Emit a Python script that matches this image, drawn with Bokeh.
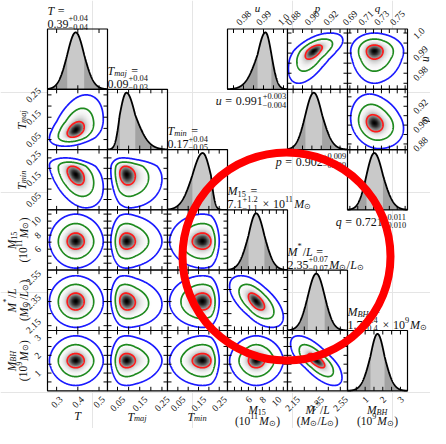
import math
import re
import numpy as np
import contourpy
from bokeh.plotting import figure
from bokeh.models import Range1d, LinearColorMapper
from bokeh.embed import file_html
from bokeh.resources import INLINE
from bokeh.core.properties import value

# ------------------------------------------------------------------ data
# lower corner: 6 parameters (median and asymmetric 1-sigma errors from the titles)
LOW_KEYS = ["T", "Tmaj", "Tmin", "M15", "ML", "MBH"]
LOW_MEDIAN = [0.39, 0.09, 0.17, 7.1, 2.35, 1.7]
LOW_ERR_PLUS = [0.04, 0.04, 0.04, 1.2, 0.07, 0.4]
LOW_ERR_MINUS = [0.04, 0.03, 0.05, 1.1, 0.07, 0.4]
LOW_TAIL_PLUS = [0.045, 0.06, 0.02, 1.35, 0.072, 0.5]
LOW_TAIL_MINUS = [0.042, 0.02, 0.055, 1.35, 0.072, 0.5]
LOW_DECIMALS = [2, 2, 2, 1, 2, 1]
LOW_AX_MIN = [0.257, 0.005, 0.0, 3.0, 2.11, 0.0]
LOW_AX_MAX = [0.540, 0.275, 0.29, 11.6, 2.61, 3.4]
LOW_TICKS = [[0.3, 0.4, 0.5],
             [0.05, 0.10, 0.15, 0.20, 0.25],
             [0.05, 0.10, 0.15, 0.20, 0.25],
             [4, 5, 6, 7, 8, 9, 10, 11],
             [2.15, 2.25, 2.35, 2.45, 2.55],
             [0.5, 1.0, 1.5, 2.0, 2.5, 3.0]]
LOW_TICK_LABELS = [["0.3", "0.4", "0.5"],
                   ["0.05", "", "0.15", "", "0.25"],
                   ["0.05", "", "0.15", "", "0.25"],
                   ["", "", "6", "", "8", "", "10", ""],
                   ["2.15", "", "2.35", "", "2.55"],
                   ["", "1", "", "2", "", "3"]]
LOW_CORR = [[1.0, 0.4, -0.4, 0.0, 0.0, 0.0],
            [0.4, 1.0, -0.15, 0.0, -0.1, 0.0],
            [-0.4, -0.15, 1.0, 0.0, 0.0, 0.0],
            [0.0, 0.0, 0.0, 1.0, -0.6, 0.0],
            [0.0, -0.1, 0.0, -0.6, 1.0, -0.7],
            [0.0, 0.0, 0.0, 0.0, -0.7, 1.0]]

# upper corner: u, p, q
UPQ_KEYS = ["u", "p", "q"]
UPQ_MEDIAN = [0.991, 0.902, 0.721]
UPQ_ERR_PLUS = [0.003, 0.009, 0.011]
UPQ_ERR_MINUS = [0.004, 0.009, 0.010]
UPQ_TAIL_PLUS = [0.003, 0.011, 0.013]
UPQ_TAIL_MINUS = [0.006, 0.009, 0.010]
UPQ_DECIMALS = [3, 3, 3]
UPQ_AX_MIN = [0.972, 0.874, 0.687]
UPQ_AX_MAX = [1.002, 0.938, 0.763]
UPQ_TICKS = [[0.975, 0.98, 0.985, 0.99, 0.995, 1.0],
             [0.88, 0.89, 0.90, 0.91, 0.92, 0.93],
             [0.69, 0.70, 0.71, 0.72, 0.73, 0.74, 0.75, 0.76]]
UPQ_TICK_LABELS = [["", "0.98", "", "0.99", "", "1.0"],
                   ["0.88", "", "0.90", "", "0.92", ""],
                   ["0.69", "", "0.71", "", "0.73", "", "0.75", ""]]
UPQ_CORR = [[1.0, 0.6, 0.0],
            [0.6, 1.0, -0.2],
            [0.0, -0.2, 1.0]]

CONTOUR_LEVELS = [9.0, 4.0, 1.0]          # squared Mahalanobis radius (3, 2, 1 sigma)
CONTOUR_COLORS = ["#1a1aff", "#1f8a1f", "#ff1a1a"]

# symbols (rich text: n = roman, i = italic)
SYM = {
    "T": [("i", "T")],
    "Tmaj": [("i", "T"), ("sub", "maj", "i")],
    "Tmin": [("i", "T"), ("sub", "min", "i")],
    "M15": [("i", "M"), ("sub", "15", "n")],
    "ML": [("i", "M"), ("sup", "*", "n"), ("n", "/"), ("i", "L")],
    "MBH": [("i", "M"), ("sub", "BH", "i")],
    "u": [("i", "u")], "p": [("i", "p")], "q": [("i", "q")],
}
TITLE_UNITS = {
    "M15": [("n", " × 10"), ("sup", "11", "n"), ("i", "M"), ("sub", "⊙", "n")],
    "ML": [("i", "M"), ("sub", "⊙", "n"), ("n", "/"), ("i", "L"), ("sub", "⊙", "n")],
    "MBH": [("n", " × 10"), ("sup", "9", "n"), ("i", "M"), ("sub", "⊙", "n")],
}
AXIS_UNITS = {
    "M15": [("n", "(10"), ("sup", "11", "n"), ("i", "M"), ("sub", "⊙", "n"), ("n", ")")],
    "ML": [("n", "("), ("i", "M"), ("sub", "⊙", "n"), ("n", "/"), ("i", "L"), ("sub", "⊙", "n"), ("n", ")")],
    "MBH": [("n", "(10"), ("sup", "9", "n"), ("i", "M"), ("sub", "⊙", "n"), ("n", ")")],
}

# highlight ring drawn over the chart (page pixel coordinates)
RING_X, RING_Y, RING_R = 294, 264, 104

# ------------------------------------------------------------------ layout / style
FONT = "Liberation Serif"
GX0, GY0, PW, PH = 55.0, 36.5, 60.0, 60.3
FX0, FX1, FYB, FYT = 8.0, 438.0, 436.0, 8.0
TICK_LEN = 4.0
TICK_FS = 9.5
LAB_FS = 12.0
DARK, LIGHT = "#a3a3a3", "#c9c9c9"
GRAYS = ["#%02x%02x%02x" % (v, v, v) for v in range(256)]
IMG_SHARP = 2.3

p = figure(width=430, height=428, x_range=Range1d(FX0, FX1), y_range=Range1d(FYB, FYT),
           output_backend="svg", toolbar_location=None, min_border=0, title=None,
           x_axis_location=None, y_axis_location=None, outline_line_color=None,
           background_fill_color="white", border_fill_color="white")


def col_left(c):
    return GX0 + c * PW


def row_top(r):
    return GY0 + r * PH


XR, YR = {}, {}


def make_xr(name, lo, hi, col):
    p0 = col_left(col)
    k = (hi - lo) / PW
    XR[name] = Range1d(lo + (FX0 - p0) * k, lo + (FX1 - p0) * k)


def make_yr(name, lo, hi, row):
    p0 = row_top(row) + PH
    k = (hi - lo) / PH
    YR[name] = Range1d(lo + (p0 - FYB) * k, lo + (p0 - FYT) * k)


DIAG_TOP = 1.06
for c in range(6):
    make_xr(f"xl{c}", LOW_AX_MIN[c], LOW_AX_MAX[c], c)
    make_yr(f"yl{c}", LOW_AX_MIN[c], LOW_AX_MAX[c], c)
    make_yr(f"dl{c}", 0.0, DIAG_TOP, c)
for j in range(3):
    make_xr(f"xu{j}", UPQ_AX_MIN[j], UPQ_AX_MAX[j], 3 + j)
    make_yr(f"yu{j}", UPQ_AX_MIN[j], UPQ_AX_MAX[j], j)
    make_yr(f"du{j}", 0.0, DIAG_TOP, j)
p.extra_x_ranges = XR
p.extra_y_ranges = YR


def zfun(x, m, sm, sp, tm, tp):
    d = x - m
    return np.where(d >= 0,
                    np.where(d <= sp, d / sp, 1 + (d - sp) / tp),
                    np.where(d >= -sm, d / sm, -1 + (d + sm) / tm))


def frame(xn, yn, xlo, xhi, ylo, yhi, xticks, yticks):
    kx = (xhi - xlo) / PW * TICK_LEN
    ky = (yhi - ylo) / PH * TICK_LEN
    x0, y0, x1, y1 = [], [], [], []
    for t in xticks:
        if xlo < t < xhi:
            x0 += [t, t]; x1 += [t, t]; y0 += [ylo, yhi]; y1 += [ylo + ky, yhi - ky]
    for t in yticks:
        if ylo < t < yhi:
            y0 += [t, t]; y1 += [t, t]; x0 += [xlo, xhi]; x1 += [xlo + kx, xhi - kx]
    p.segment(x0=x0, y0=y0, x1=x1, y1=y1, line_color="black", line_width=1.0,
              x_range_name=xn, y_range_name=yn)
    p.quad(left=[xlo], right=[xhi], bottom=[ylo], top=[yhi], fill_color=None,
           line_color="black", line_width=1.2, x_range_name=xn, y_range_name=yn)


def panel2d(xn, yn, xs_stats, ys_stats, rho, xlims, ylims, xticks, yticks):
    xlo, xhi = xlims
    ylo, yhi = ylims
    n = 140
    gx = np.linspace(xlo, xhi, n)
    gy = np.linspace(ylo, yhi, n)
    X, Y = np.meshgrid(gx, gy)
    zx = zfun(X, *xs_stats)
    zy = zfun(Y, *ys_stats)
    Q = (zx ** 2 - 2 * rho * zx * zy + zy ** 2) / (1 - rho ** 2)
    dens = np.exp(-0.5 * IMG_SHARP * Q)
    p.image(image=[1.0 - dens], x=xlo, y=ylo, dw=xhi - xlo, dh=yhi - ylo,
            color_mapper=LinearColorMapper(palette=GRAYS, low=0.0, high=1.0),
            x_range_name=xn, y_range_name=yn)
    gen = contourpy.contour_generator(gx, gy, Q, line_type="Separate")
    for lev, col in zip(CONTOUR_LEVELS, CONTOUR_COLORS):
        lines = gen.lines(lev)
        if not lines:
            continue
        p.multi_line(xs=[l[:, 0].tolist() for l in lines], ys=[l[:, 1].tolist() for l in lines],
                     line_color=col, line_width=1.7, x_range_name=xn, y_range_name=yn)
    frame(xn, yn, xlo, xhi, ylo, yhi, xticks, yticks)


def panel1d(xn, yn, stats, xlims, xticks):
    xlo, xhi = xlims
    m, sm, sp, tm, tp = stats
    xs = np.linspace(xlo, xhi, 500)
    f = np.exp(-0.5 * zfun(xs, *stats) ** 2)
    p.varea(x=xs, y1=0.0, y2=f, fill_color=DARK, x_range_name=xn, y_range_name=yn)
    msk = (xs >= m - sm) & (xs <= m + sp)
    p.varea(x=xs[msk], y1=0.0, y2=f[msk], fill_color=LIGHT, x_range_name=xn, y_range_name=yn)
    p.line(xs, f, line_color="black", line_width=1.8, x_range_name=xn, y_range_name=yn)
    frame(xn, yn, xlo, xhi, 0.0, DIAG_TOP, xticks, [])


def lstats(i):
    return (LOW_MEDIAN[i], LOW_ERR_MINUS[i], LOW_ERR_PLUS[i], LOW_TAIL_MINUS[i], LOW_TAIL_PLUS[i])


def ustats(i):
    return (UPQ_MEDIAN[i], UPQ_ERR_MINUS[i], UPQ_ERR_PLUS[i], UPQ_TAIL_MINUS[i], UPQ_TAIL_PLUS[i])


# lower corner
for r in range(6):
    for c in range(r + 1):
        if r == c:
            panel1d(f"xl{c}", f"dl{r}", lstats(c), (LOW_AX_MIN[c], LOW_AX_MAX[c]), LOW_TICKS[c])
        else:
            panel2d(f"xl{c}", f"yl{r}", lstats(c), lstats(r), LOW_CORR[r][c],
                    (LOW_AX_MIN[c], LOW_AX_MAX[c]), (LOW_AX_MIN[r], LOW_AX_MAX[r]),
                    LOW_TICKS[c], LOW_TICKS[r])
# upper corner
for i in range(3):
    for j in range(i, 3):
        if i == j:
            panel1d(f"xu{j}", f"du{i}", ustats(j), (UPQ_AX_MIN[j], UPQ_AX_MAX[j]), UPQ_TICKS[j])
        else:
            panel2d(f"xu{j}", f"yu{i}", ustats(j), ustats(i), UPQ_CORR[i][j],
                    (UPQ_AX_MIN[j], UPQ_AX_MAX[j]), (UPQ_AX_MIN[i], UPQ_AX_MAX[i]),
                    UPQ_TICKS[j], UPQ_TICKS[i])

# ------------------------------------------------------------------ text
CW = {ch: 0.5 for ch in "0123456789"}
CW.update({".": 0.25, "+": 0.564, "−": 0.564, "=": 0.564, "×": 0.564, " ": 0.3,
           "(": 0.333, ")": 0.333, "/": 0.278, "*": 0.5, "⊙": 0.8,
           "T": 0.556, "M": 0.833, "L": 0.556, "B": 0.611, "H": 0.722,
           "u": 0.5, "p": 0.5, "q": 0.5, "m": 0.722, "a": 0.5, "j": 0.278, "i": 0.278, "n": 0.5})


def tw(s, size):
    return size * sum(CW.get(ch, 0.5) for ch in s)


TEXT = {}


def put(x, y, s, size, style, angle=0.0, align="left", baseline="alphabetic", xr=None, yr=None):
    key = (round(size, 2), style, round(angle, 5), align, baseline, xr, yr)
    d = TEXT.setdefault(key, dict(x=[], y=[], text=[]))
    d["x"].append(x); d["y"].append(y); d["text"].append(s)


def rich(x, y, items, size, angle=0.0, align="left"):
    small = 0.7 * size
    out, pos = [], 0.0

    def add(txt, at, up, sz, st):
        # split on spaces so that every word is placed explicitly (svg collapses spaces)
        for mt in re.finditer(r"\S+", txt):
            out.append((at + tw(txt[:mt.start()], sz), up, mt.group(), sz, st))

    for it in items:
        k = it[0]
        if k in ("n", "i"):
            add(it[1], pos, 0.0, size, "normal" if k == "n" else "italic")
            pos += tw(it[1], size)
        elif k == "sup":
            add(it[1], pos, 0.42 * size, small, "normal" if it[2] == "n" else "italic")
            pos += tw(it[1], small) + 0.08 * size
        elif k == "sub":
            add(it[1], pos, -0.2 * size, small, "normal" if it[2] == "n" else "italic")
            pos += tw(it[1], small) + 0.08 * size
        elif k == "ss":
            add(it[1], pos, 0.45 * size, small, "normal")
            add(it[2], pos, -0.27 * size, small, "normal")
            pos += max(tw(it[1], small), tw(it[2], small)) + 0.1 * size
    off = {"left": 0.0, "center": -pos / 2, "right": -pos}[align]
    ca, sa = math.cos(angle), math.sin(angle)
    for along, up, t, sz, st in out:
        a = along + off
        put(x + a * ca - up * sa, y - a * sa - up * ca, t, sz, st, angle)


def fmt(v, d):
    return f"{v:.{d}f}"


EQ = [("n", " =")]

# titles over the lower diagonal
for i, key in enumerate(LOW_KEYS):
    x0 = col_left(i)
    top = row_top(i)
    rich(x0, top - 18.5, SYM[key] + EQ, LAB_FS)
    d = LOW_DECIMALS[i]
    line2 = [("n", fmt(LOW_MEDIAN[i], d)),
             ("ss", "+" + fmt(LOW_ERR_PLUS[i], d), "−" + fmt(LOW_ERR_MINUS[i], d))]
    line2 += TITLE_UNITS.get(key, [])
    rich(x0, top - 5.5, line2, LAB_FS)

# titles under the upper diagonal
for i, key in enumerate(UPQ_KEYS):
    d = UPQ_DECIMALS[i]
    items = SYM[key] + [("n", " = " + fmt(UPQ_MEDIAN[i], d)),
                        ("ss", "+" + fmt(UPQ_ERR_PLUS[i], d), "−" + fmt(UPQ_ERR_MINUS[i], d))]
    rich(col_left(3 + i) + PW, row_top(i) + PH + 12, items, LAB_FS, align="right")

# tick labels
A45 = math.pi / 4
S2 = math.sqrt(0.5)


def diag_extent(s):
    return (tw(s, TICK_FS) + 0.72 * TICK_FS) * S2


bottom = row_top(6)
for c in range(6):
    for t, s in zip(LOW_TICKS[c], LOW_TICK_LABELS[c]):
        if s:
            put(t, bottom + 4.5 + diag_extent(s) / 2, s, TICK_FS, "normal", A45, "center", "middle",
                xr=f"xl{c}")
for r in range(1, 6):
    for t, s in zip(LOW_TICKS[r], LOW_TICK_LABELS[r]):
        if s:
            put(GX0 - 6 - diag_extent(s) / 2, t, s, TICK_FS, "normal", A45, "center", "middle",
                yr=f"yl{r}")
for j in range(3):
    for t, s in zip(UPQ_TICKS[j], UPQ_TICK_LABELS[j]):
        if s:
            put(t, GY0 - 3.0 - diag_extent(s) / 2, s, TICK_FS, "normal", A45, "center", "middle",
                xr=f"xu{j}")
right = col_left(6)
for i in range(2):
    for t, s in zip(UPQ_TICKS[i], UPQ_TICK_LABELS[i]):
        if s:
            put(right + 4.5 + diag_extent(s) / 2, t, s, TICK_FS, "normal", A45, "center", "middle",
                yr=f"yu{i}")

# axis labels: bottom
for c, key in enumerate(LOW_KEYS):
    xc = col_left(c) + PW / 2
    if key in AXIS_UNITS:
        rich(xc, 417.5, SYM[key], 11.5, align="center")
        rich(xc, 428.5, AXIS_UNITS[key], 11.5, align="center")
    else:
        rich(xc, 424 if c else 423, SYM[key], 12, align="center")
# axis labels: left (rotated)
for r in range(1, 6):
    key = LOW_KEYS[r]
    yc = row_top(r) + PH / 2
    if key in AXIS_UNITS:
        rich(19, yc, SYM[key], 11.5, angle=math.pi / 2, align="center")
        rich(31, yc, AXIS_UNITS[key], 11.5, angle=math.pi / 2, align="center")
    else:
        rich(29, yc, SYM[key], 12, angle=math.pi / 2, align="center")
# axis labels: top and right of the u, p, q corner
for j, key in enumerate(UPQ_KEYS):
    rich(col_left(3 + j) + PW / 2, 15.5, SYM[key], 11, align="center")
for i in range(2):
    rich(432.5, row_top(i) + PH / 2, SYM[UPQ_KEYS[i]], 11.5, angle=math.pi / 2, align="center")

for (size, style, angle, align, baseline, xr, yr), d in TEXT.items():
    kw = {}
    if xr:
        kw["x_range_name"] = xr
    if yr:
        kw["y_range_name"] = yr
    p.text(x=d["x"], y=d["y"], text=d["text"], angle=angle, text_font=value(FONT),
           text_font_size=value(f"{size}px"), text_font_style=value(style),
           text_align=align, text_baseline=baseline, text_color="#111111", **kw)

# highlight ring
p.circle(x=[RING_X], y=[RING_Y], radius=RING_R, fill_color=None, line_color="#ff0000",
         line_width=8)

open("out.html", "w").write(file_html(p, INLINE))
